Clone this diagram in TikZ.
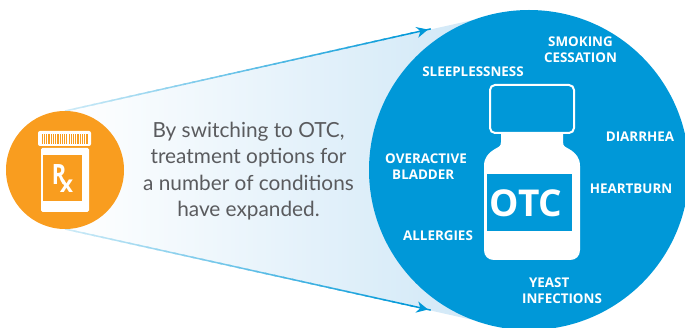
\documentclass[tikz,border=0pt]{standalone}
\usepackage{fontspec}
\usetikzlibrary{calc}
\setmainfont{Lato}
\newfontfamily\labelfont{Open Sans}
\definecolor{otcblue}{HTML}{0098D8}
\definecolor{rxorange}{HTML}{F99D1F}
\definecolor{wedgeblue}{HTML}{CBE5F6}
\definecolor{bodygray}{HTML}{5A5B5E}
\tikzset{
  condition/.style={font=\labelfont\bfseries\fontsize{13.4}{15.8}\selectfont,text=white,align=center,inner sep=0pt},
  bodytext/.style={font=\fontsize{20.8}{26.3}\selectfont,text=bodygray,align=center,inner sep=0pt},
}
\begin{document}
\begin{tikzpicture}[x=1pt,y=-1pt]
\useasboundingbox (0,0) rectangle (685,328);
\clip (0,0) rectangle (685,328);
% anchor coordinates
\coordinate (wt) at (65,111);
\coordinate (wb) at (65,229);
\coordinate (tt) at (473,20);
\coordinate (tb) at (473,320);
\coordinate (at) at (428,29.5);
\coordinate (ab) at (428,309.5);
% wedge
\shade[left color=white,right color=wedgeblue,shading angle=90] (wt) -- (tt) -- (529,170) -- (tb) -- (wb) -- cycle;
% fading arrow shafts
\foreach \i in {0,...,39}{
  \pgfmathsetmacro{\a}{\i/40}
  \pgfmathsetmacro{\b}{(\i+1.3)/40}
  \pgfmathsetmacro{\m}{min(100,20+2.1*\i)}
  \draw[otcblue!\m!white,line width=1.5pt] ($(wt)!\a!(at)$) -- ($(wt)!\b!(at)$);
  \draw[otcblue!\m!white,line width=1.5pt] ($(wb)!\a!(ab)$) -- ($(wb)!\b!(ab)$);
}
% arrow heads
\fill[otcblue] (at) -- ++(-9.7,8.2) -- ++(2.2,-6.7) -- ++(-5.2,-4) -- cycle;
\fill[otcblue] (ab) -- ++(-9.7,-8) -- ++(2.2,6.5) -- ++(-5.2,4.7) -- cycle;
% circles
\fill[otcblue] (529,170) circle[radius=160];
\fill[rxorange] (65,170) circle[radius=59];
% Rx bottle
\fill[white,rounded corners=2pt] (38,131) rectangle (91,146);
\foreach \i in {0,...,20}{\fill[rxorange] ({41.8+\i*2.23},134) rectangle ++(1.1,10);}
\fill[white,rounded corners=1.5pt] (41,148) rectangle (89,212);
\fill[rxorange] (43,155) rectangle (82,201);
\node[inner sep=0pt,text=white,font=\labelfont\bfseries\fontsize{28}{28}\selectfont] (rxr) at (59,174.5) {\scalebox{0.78}[1]{R}};
\node[inner sep=0pt,text=white,font=\labelfont\bfseries\fontsize{23}{23}\selectfont] (rxx) at (66.5,186) {x};
% OTC bottle
\draw[white,line width=2pt,rounded corners=5pt] (490,85) rectangle (574,133);
\fill[white,rounded corners=0pt] (501,134)
  -- (501,142) .. controls (501,147) and (498,147) .. (495,149)
  .. controls (488,153) and (484,158) .. (484,166)
  -- (484,250) .. controls (484,256) and (488,260) .. (494,260)
  -- (570,260) .. controls (576,260) and (580,256) .. (580,250)
  -- (580,166) .. controls (580,158) and (576,153) .. (569,149)
  .. controls (566,147) and (563,147) .. (563,142)
  -- (563,134) -- cycle;
\fill[otcblue] (487,174) rectangle (572,231);
\node[inner sep=0pt,text=white,font=\labelfont\bfseries\fontsize{37}{37}\selectfont] (otc) at (526,203.5) {OTC};
% labels
\node[condition] (smoke) at (580.5,49.7) {SMOKING\\CESSATION};
\node[condition] (sleep) at (473,72) {SLEEPLESSNESS};
\node[condition] (diarr) at (640,137) {DIARRHEA};
\node[condition,align=left] (overa) at (426,167) {OVERACTIVE\\\hspace*{7pt}BLADDER};
\node[condition] (heart) at (631,189) {HEARTBURN};
\node[condition] (aller) at (438,236) {ALLERGIES};
\node[condition,align=left] (yeast) at (562,290.7) {\hspace*{7pt}YEAST\\INFECTIONS};
\node[bodytext] (body) at (248.5,171) {By switching to OTC,\\treatment options for\\a number of conditions\\have expanded.};
\end{tikzpicture}
\end{document}
